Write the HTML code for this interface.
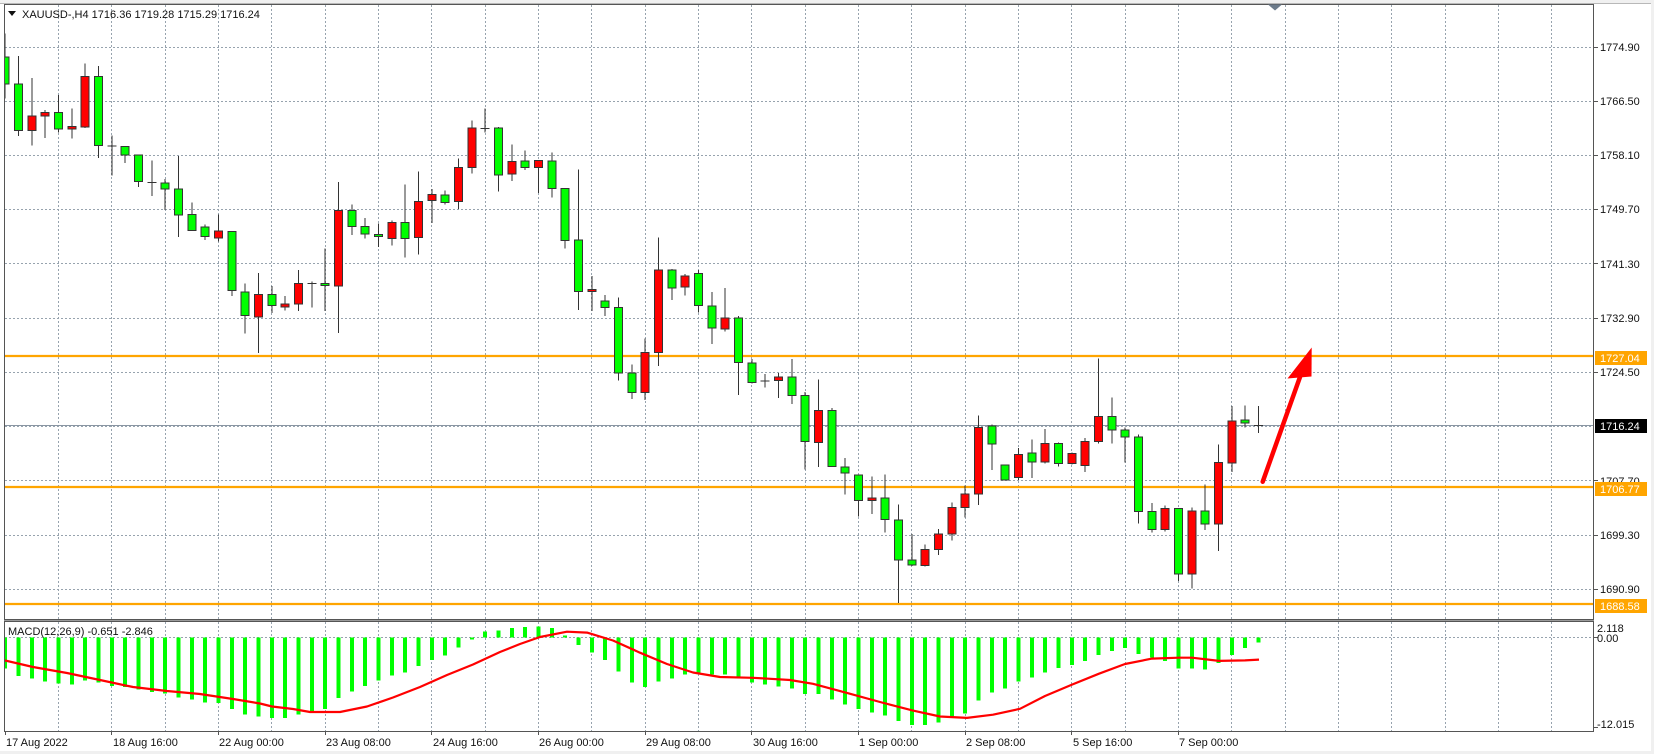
<!DOCTYPE html>
<html><head><meta charset="utf-8"><style>
html,body{margin:0;padding:0;background:#fff;}
svg{display:block;}
text{font-family:"Liberation Sans",sans-serif;font-size:11px;fill:#111;}
</style></head><body>
<svg xmlns="http://www.w3.org/2000/svg" width="1654" height="754" viewBox="0 0 1654 754">
<defs>
<clipPath id="cm"><rect x="5" y="5" width="1588" height="614"/></clipPath>
<clipPath id="cd"><rect x="5" y="622" width="1588" height="109"/></clipPath>
</defs>
<rect width="1654" height="754" fill="#fff"/>
<rect x="0" y="0" width="1654" height="3" fill="#f0f0f0"/>
<rect x="0" y="751" width="1654" height="3" fill="#f0f0f0"/>
<rect x="1651" y="0" width="3" height="754" fill="#f0f0f0"/>
<line x1="0" y1="3.5" x2="1651" y2="3.5" stroke="#b8b8b8"/>

<!-- grid -->
<g stroke="#97a3ae" stroke-width="1" stroke-dasharray="2 2" fill="none">
<path d="M5 47.5H1593M5 101.5H1593M5 155.5H1593M5 209.5H1593M5 263.5H1593M5 318.5H1593M5 372.5H1593M5 426.5H1593M5 480.5H1593M5 535.5H1593M5 589.5H1593M5 637.5H1593"/>
<path d="M58.5 5V619M111.5 5V619M165.5 5V619M218.5 5V619M271.5 5V619M325.5 5V619M378.5 5V619M431.5 5V619M485.5 5V619M538.5 5V619M591.5 5V619M645.5 5V619M698.5 5V619M751.5 5V619M805.5 5V619M858.5 5V619M911.5 5V619M965.5 5V619M1018.5 5V619M1071.5 5V619M1125.5 5V619M1178.5 5V619M1231.5 5V619M1285.5 5V619M1338.5 5V619M1391.5 5V619M1445.5 5V619M1498.5 5V619M1551.5 5V619"/>
<path d="M58.5 622V731M111.5 622V731M165.5 622V731M218.5 622V731M271.5 622V731M325.5 622V731M378.5 622V731M431.5 622V731M485.5 622V731M538.5 622V731M591.5 622V731M645.5 622V731M698.5 622V731M751.5 622V731M805.5 622V731M858.5 622V731M911.5 622V731M965.5 622V731M1018.5 622V731M1071.5 622V731M1125.5 622V731M1178.5 622V731M1231.5 622V731M1285.5 622V731M1338.5 622V731M1391.5 622V731M1445.5 622V731M1498.5 622V731M1551.5 622V731"/>
</g>

<!-- current price line -->
<line x1="5" y1="425.5" x2="1593" y2="425.5" stroke="#8a96a3" stroke-width="1"/>

<!-- orange levels -->
<g stroke="#ffa500" stroke-width="2.2">
<line x1="5" y1="356" x2="1593" y2="356"/>
<line x1="5" y1="487" x2="1593" y2="487"/>
<line x1="5" y1="604" x2="1593" y2="604"/>
</g>

<!-- candles -->
<g clip-path="url(#cm)">
<g transform="translate(5.2 20.56) scale(13.3333 0.4558)" shape-rendering="crispEdges">
<path fill="none" stroke="#333" stroke-width="1" vector-effect="non-scaling-stroke" d="M0 28V171M1 78V253M2 126V274M3 196V258M4 163V246M5 193V259M6 94V236M7 100V302M8 252V340M9 276V312M10 295V365M11 307V385M12 348V416M13 297V475M14 399V461M15 447V481M16 426V485M17 463V604M18 577V687M19 554V729M20 582V642M21 604V636M22 547V637M23 572V630M24 500V637M25 354V685M26 404V470M27 433V478M28 445V497M29 439V494M30 360V520M31 331V513M32 370V444M33 373V404M34 303V413M35 219V336M36 193V246M37 233V375M38 272V352M39 285V328M40 307V378M41 289V388M42 368V500M43 327V635M44 560V637M45 602V648M46 608V790M47 755V830M48 697V833M49 476V758M50 545V613M51 556V603M52 547V641M53 596V710M54 587V682M55 648V822M56 742V796M57 775V805M58 773V828M59 743V841M60 815V985M61 788V980M62 850V980M63 960V1040M64 997V1088M65 1000V1083M66 996V1123M67 1062V1278M68 1127V1197M69 1150V1198M70 1116V1172M71 1057V1141M72 1020V1090M73 866V1063M74 886V986M75 975V1008M76 938V1008M77 919V1004M78 896V972M79 926V978M80 948V974M81 916V990M82 741V928M83 827V928M84 893V970M85 908V1103M86 1058V1123M87 1064V1121M88 1071V1230M89 1068V1246M90 1018V1118M91 930V1164M92 846V990M93 844V893M94 846V905M7.66 275H8.34M10.66 355H11.34M22.66 577H23.34M35.66 237H36.34M56.66 791H57.34M93.66 888H94.34"/>
<path fill="#00ff00" stroke="#333" stroke-width="1" vector-effect="non-scaling-stroke" d="M-.3 80H.3V139H-.3ZM.7 139H1.3V241H.7ZM3.7 202H4.3V238H3.7ZM6.7 123H7.3V274H6.7ZM8.7 276H9.3V295H8.7ZM9.7 295H10.3V353H9.7ZM11.7 356H12.3V370H11.7ZM12.7 370H13.3V427H12.7ZM13.7 426H14.3V461H13.7ZM14.7 453H15.3V474H14.7ZM16.7 463H17.3V592H16.7ZM17.7 595H18.3V647H17.7ZM19.7 601H20.3V625H19.7ZM23.7 577H24.3V581H23.7ZM25.7 417H26.3V452H25.7ZM26.7 452H27.3V468H26.7ZM27.7 469H28.3V474H27.7ZM29.7 443H30.3V478H29.7ZM32.7 383H33.3V399H32.7ZM36.7 236H37.3V339H36.7ZM38.7 308H39.3V322H38.7ZM40.7 308H41.3V368H40.7ZM41.7 368H42.3V483H41.7ZM42.7 481H43.3V594H42.7ZM44.7 615H45.3V629H44.7ZM45.7 629H46.3V773H45.7ZM46.7 773H47.3V816H46.7ZM49.7 547H50.3V587H49.7ZM51.7 555H52.3V625H51.7ZM52.7 626H53.3V675H52.7ZM54.7 653H55.3V750H54.7ZM55.7 751H56.3V794H55.7ZM58.7 782H59.3V823H58.7ZM59.7 823H60.3V924H59.7ZM61.7 856H62.3V978H61.7ZM62.7 979H63.3V993H62.7ZM63.7 997H64.3V1053H63.7ZM65.7 1048H66.3V1095H65.7ZM66.7 1096H67.3V1183H66.7ZM67.7 1183H68.3V1195H67.7ZM73.7 890H74.3V929H73.7ZM74.7 975H75.3V1008H74.7ZM76.7 949H77.3V969H76.7ZM78.7 928H79.3V972H78.7ZM82.7 869H83.3V898H82.7ZM83.7 898H84.3V914H83.7ZM84.7 914H85.3V1077H84.7ZM85.7 1077H86.3V1117H85.7ZM87.7 1071H88.3V1214H87.7ZM89.7 1076H90.3V1104H89.7ZM92.7 876H93.3V883H92.7Z"/>
<path fill="#ff0000" stroke="#333" stroke-width="1" vector-effect="non-scaling-stroke" d="M1.7 209H2.3V241H1.7ZM2.7 202H3.3V209H2.7ZM4.7 232H5.3V238H4.7ZM5.7 123H6.3V233H5.7ZM15.7 462H16.3V477H15.7ZM18.7 601H19.3V650H18.7ZM20.7 622H21.3V628H20.7ZM21.7 577H22.3V622H21.7ZM24.7 417H25.3V582H24.7ZM28.7 443H29.3V478H28.7ZM30.7 397H31.3V476H30.7ZM31.7 382H32.3V395H31.7ZM33.7 322H34.3V397H33.7ZM34.7 236H35.3V322H34.7ZM37.7 309H38.3V337H37.7ZM39.7 307H40.3V322H39.7ZM43.7 590H44.3V594H43.7ZM47.7 728H48.3V816H47.7ZM48.7 547H49.3V728H48.7ZM50.7 560H51.3V585H50.7ZM53.7 653H54.3V677H53.7ZM57.7 782H58.3V790H57.7ZM60.7 856H61.3V926H60.7ZM64.7 1048H65.3V1053H64.7ZM68.7 1160H69.3V1196H68.7ZM69.7 1127H70.3V1160H69.7ZM70.7 1068H71.3V1126H70.7ZM71.7 1039H72.3V1068H71.7ZM72.7 893H73.3V1039H72.7ZM75.7 952H76.3V1003H75.7ZM77.7 928H78.3V969H77.7ZM79.7 950H80.3V972H79.7ZM80.7 924H81.3V976H80.7ZM81.7 869H82.3V924H81.7ZM86.7 1070H87.3V1117H86.7ZM88.7 1076H89.3V1214H88.7ZM90.7 970H91.3V1104H90.7ZM91.7 878H92.3V971H91.7Z"/>
</g>
</g>

<!-- MACD -->
<g clip-path="url(#cd)">
<g transform="translate(5.2 20.56) scale(13.3333 0.4558)" shape-rendering="crispEdges">
<path fill="none" stroke="#00ff00" stroke-width="4" vector-effect="non-scaling-stroke" d="M0 1353V1422M1 1353V1438M2 1353V1444M3 1353V1450M4 1353V1455M5 1353V1457M6 1353V1448M7 1353V1452M8 1353V1460M9 1353V1462M10 1353V1468M11 1353V1473M12 1353V1476M13 1353V1485M14 1353V1490M15 1353V1496M16 1353V1497M17 1353V1510M18 1353V1522M19 1353V1527M20 1353V1530M21 1353V1530M22 1353V1522M23 1353V1515M24 1353V1510M25 1353V1486M26 1353V1472M27 1353V1460M28 1353V1448M29 1353V1437M30 1353V1430M31 1353V1416M32 1353V1403M33 1353V1393M34 1353V1376M35 1353V1358M36 1353V1340M37 1353V1338M38 1353V1333M39 1353V1331M40 1353V1329M41 1353V1333M42 1353V1349M43 1353V1370M44 1353V1386M45 1353V1403M46 1353V1428M47 1353V1452M48 1353V1462M49 1353V1450M50 1353V1443M51 1353V1435M52 1353V1433M53 1353V1435M54 1353V1435M55 1353V1440M56 1353V1452M57 1353V1457M58 1353V1461M59 1353V1465M60 1353V1477M61 1353V1478M62 1353V1490M63 1353V1500M64 1353V1510M65 1353V1518M66 1353V1525M67 1353V1537M68 1353V1546M69 1353V1546M70 1353V1540M71 1353V1530M72 1353V1520M73 1353V1492M74 1353V1474M75 1353V1465M76 1353V1450M77 1353V1441M78 1353V1430M79 1353V1420M80 1353V1414M81 1353V1405M82 1353V1392M83 1353V1383M84 1353V1377M85 1353V1390M86 1353V1397M87 1353V1405M88 1353V1422M89 1353V1422M90 1353V1424M91 1353V1410M92 1353V1392M93 1353V1377M94 1353V1364"/>
</g>
<polyline fill="none" stroke="#ff0000" stroke-width="2.2" stroke-linejoin="round" points="5,660.5 33,667 67,673 100,680 133,687 167,691 200,694 233,699 260,703.5 272,706.5 293,709 310,712 340,712 367,706.5 393,697.5 420,687 447,675 473,664.5 500,652 520,644 540,637 567,631.7 587,632.6 613,640.5 640,652.7 667,664 693,672.5 720,677 753,677.8 790,680 813,683.8 847,692.9 880,702 913,710.6 940,716.5 967,717.9 993,714.7 1020,708.8 1045,696 1072,684.6 1099,673.7 1125,664 1152,658.6 1179,657.7 1192,657.7 1219,660.9 1245,660.4 1259,659.6"/>
</g>

<!-- frames -->
<g fill="none" stroke="#555" stroke-width="1" shape-rendering="crispEdges">
<rect x="4.5" y="4.5" width="1589" height="615"/>
<rect x="4.5" y="621.5" width="1589" height="110"/>
</g>
<line x1="4" y1="620.5" x2="1594" y2="620.5" stroke="#9a9a9a"/>

<!-- arrow -->
<line x1="1262.7" y1="481.7" x2="1300" y2="377" stroke="#ff0000" stroke-width="4.5" stroke-linecap="round"/>
<polygon points="1311.7,347.5 1287.5,378.5 1311.5,376.5" fill="#ff0000"/>

<!-- top markers -->
<polygon points="1268,4.5 1282,4.5 1275,10.5" fill="#6c7b8b"/>
<polygon points="8,11 16,11 12,16" fill="#111"/>
<text x="22" y="18">XAUUSD-,H4  1716.36 1719.28 1715.29 1716.24</text>
<text x="8" y="635">MACD(12,26,9) -0.651 -2.846</text>

<!-- right axis ticks -->
<path stroke="#555" stroke-width="1" d="M1594 47.5H1598M1594 101.5H1598M1594 155.5H1598M1594 209.5H1598M1594 263.5H1598M1594 318.5H1598M1594 372.5H1598M1594 480.5H1598M1594 535.5H1598M1594 589.5H1598M1594 637.5H1598M1594 727.5H1598"/>
<text x="1600" y="51">1774.90</text>
<text x="1600" y="105">1766.50</text>
<text x="1600" y="159">1758.10</text>
<text x="1600" y="213">1749.70</text>
<text x="1600" y="268">1741.30</text>
<text x="1600" y="322">1732.90</text>
<text x="1600" y="376">1724.50</text>
<text x="1600" y="485">1707.70</text>
<text x="1600" y="539">1699.30</text>
<text x="1600" y="593">1690.90</text>

<rect x="1595" y="351" width="52" height="14" fill="#ffa500"/>
<text x="1600" y="362" style="fill:#fff">1727.04</text>
<rect x="1595" y="419" width="52" height="14" fill="#000"/>
<text x="1600" y="430" style="fill:#fff">1716.24</text>
<rect x="1595" y="482" width="52" height="14" fill="#ffa500"/>
<text x="1600" y="493" style="fill:#fff">1706.77</text>
<rect x="1595" y="599" width="52" height="14" fill="#ffa500"/>
<text x="1600" y="610" style="fill:#fff">1688.58</text>

<text x="1597" y="632">2.118</text>
<text x="1597" y="642">0.00</text>
<text x="1597" y="728">-12.015</text>

<!-- x axis -->
<path stroke="#555" stroke-width="1" d="M5.5 731V735M111.5 731V735M218.5 731V735M325.5 731V735M431.5 731V735M538.5 731V735M645.5 731V735M751.5 731V735M858.5 731V735M965.5 731V735M1071.5 731V735M1178.5 731V735"/>
<text x="6" y="746">17 Aug 2022</text>
<text x="113" y="746">18 Aug 16:00</text>
<text x="219" y="746">22 Aug 00:00</text>
<text x="326" y="746">23 Aug 08:00</text>
<text x="433" y="746">24 Aug 16:00</text>
<text x="539" y="746">26 Aug 00:00</text>
<text x="646" y="746">29 Aug 08:00</text>
<text x="753" y="746">30 Aug 16:00</text>
<text x="859" y="746">1 Sep 00:00</text>
<text x="966" y="746">2 Sep 08:00</text>
<text x="1073" y="746">5 Sep 16:00</text>
<text x="1179" y="746">7 Sep 00:00</text>
</svg>
</body></html>
